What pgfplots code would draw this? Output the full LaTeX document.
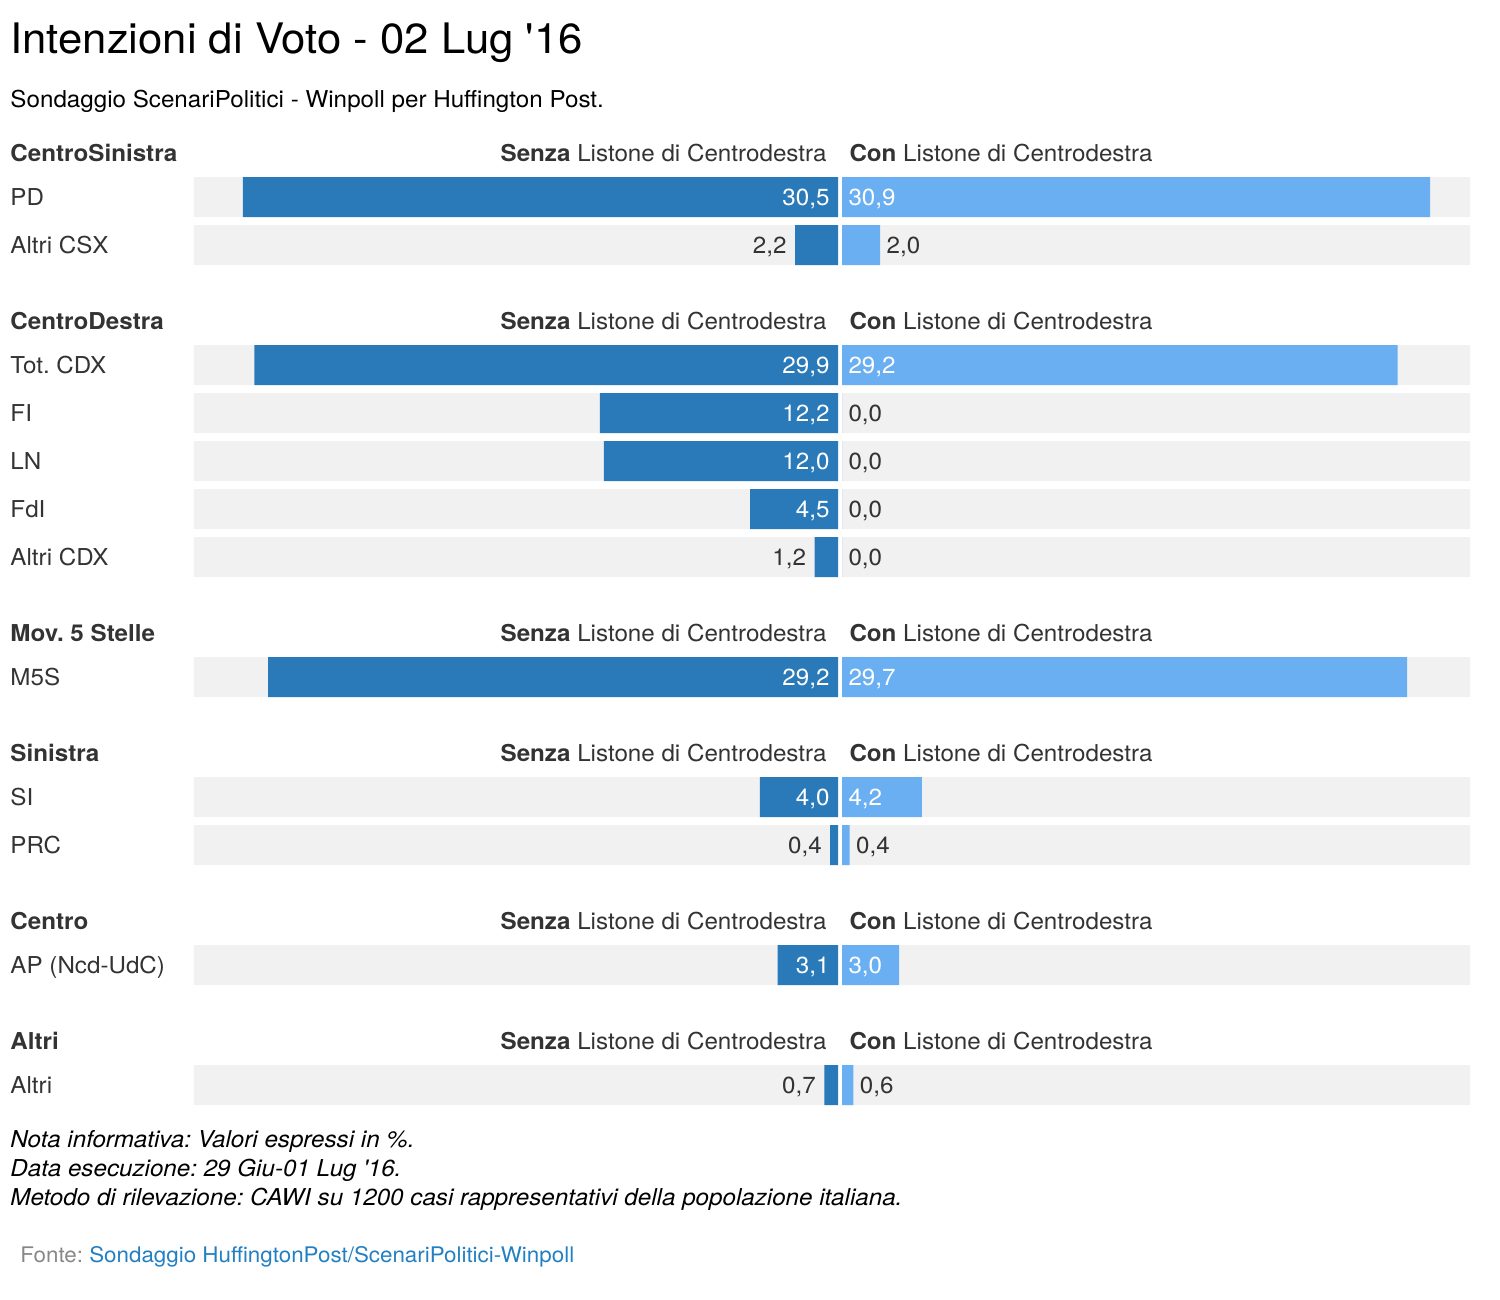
\documentclass[border=0pt]{standalone}
\usepackage{pgfplots}
\pgfplotsset{compat=1.18}
\usepackage{pgfplotstable}
\usepackage{fontspec}
\setmainfont{TeX Gyre Heros}[FakeStretch=1.04]

\definecolor{scuro}{HTML}{2A7AB9}
\definecolor{chiaro}{HTML}{6AAFF2}
\definecolor{sfondo}{HTML}{F1F1F1}
\definecolor{testo}{HTML}{333333}
\definecolor{fonte}{HTML}{888888}
\definecolor{link}{HTML}{2280C2}

% rows: y is the row centre in pixels from the top
\pgfplotstableread{
y    senza con  fondo
197  30.5  30.9 33
245  2.2   2.0  33
365  29.9  29.2 33
413  12.2  0.0  33
461  12.0  0.0  33
509  4.5   0.0  33
557  1.2   0.0  33
677  29.2  29.7 33
797  4.0   4.2  33
845  0.4   0.4  33
965  3.1   3.0  33
1085 0.7   0.6  33
}\dati

% value labels set inside the bar (white) or beside it (dark)
\pgfplotstableread{
y   v
197 30.5
365 29.9
413 12.2
461 12.0
509 4.5
677 29.2
797 4.0
965 3.1
}\senzadentro
\pgfplotstableread{
y    v
245  2.2
557  1.2
845  0.4
1085 0.7
}\senzafuori
\pgfplotstableread{
y   v
197 30.9
365 29.2
677 29.7
797 4.2
965 3.0
}\condentro
\pgfplotstableread{
y    v
245  2.0
413  0.0
461  0.0
509  0.0
557  0.0
845  0.4
1085 0.6
}\confuori

\newcommand\px{0.4pt}
\newcommand\corpo{\fontsize{9.3pt}{10pt}\selectfont}
\newcommand\testo[4][]{\node[anchor=base west,inner sep=0pt,font=\corpo,text=testo,#1] at ({(#2)*\px},{-(#3)*\px}) {#4};}
\newcommand\intest[2]{%
  \testo{10}{#1+8}{\textbf{#2}}%
  \testo[anchor=base east]{827}{#1+8}{\textbf{Senza} Listone di Centrodestra}%
  \testo{849}{#1+8}{\textbf{Con} Listone di Centrodestra}}

\pgfplotsset{
  lato/.style={scale only axis,height=520pt,ymin=0,ymax=1300,y dir=reverse,
    xmin=0,xmax=33,axis lines=none,clip=false,anchor=north west},
  barra/.style={xbar,bar width=16pt,draw=none,fill=#1},
  etichetta/.style={only marks,mark=none,point meta=explicit,
    nodes near coords={\pgfmathprintnumber[fixed,fixed zerofill,precision=1,
      use comma,assume math mode=true]{\pgfplotspointmeta}},
    nodes near coords style={font=\corpo,inner sep=0pt,text=#1}},
}

\begin{document}
\frenchspacing
\begin{tikzpicture}
\path (0,0) rectangle (1500*\px,-1300*\px);

\begin{axis}[lato,width=257.6pt,at={(77.6pt,0pt)},x dir=reverse]
  \addplot[barra=sfondo] table[x=fondo,y=y] {\dati};
  \addplot[barra=scuro] table[x=senza,y=y] {\dati};
  \addplot[etichetta=white,nodes near coords style={anchor=base east,xshift=-3.2pt,yshift=-3.2pt}]
    table[x expr=0,y=y,meta=v] {\senzadentro};
  \addplot[etichetta=testo,nodes near coords style={anchor=base east,xshift=-3.2pt,yshift=-3.2pt}]
    table[x=v,y=y,meta=v] {\senzafuori};
\end{axis}

\begin{axis}[lato,width=251.2pt,at={(336.8pt,0pt)}]
  \addplot[barra=sfondo] table[x=fondo,y=y] {\dati};
  \addplot[barra=chiaro] table[x=con,y=y] {\dati};
  \addplot[etichetta=white,nodes near coords style={anchor=base west,xshift=2.4pt,yshift=-3.2pt}]
    table[x expr=0,y=y,meta=v] {\condentro};
  \addplot[etichetta=testo,nodes near coords style={anchor=base west,xshift=2.4pt,yshift=-3.2pt}]
    table[x=v,y=y,meta=v] {\confuori};
\end{axis}

\node[anchor=base west,inner sep=0pt,font=\fontsize{16.8pt}{18pt}\selectfont] at (10*\px,-53*\px)
  {Intenzioni di Voto - 02 Lug \textquotesingle16};
\node[anchor=base west,inner sep=0pt,font=\corpo] at (10*\px,-107*\px)
  {Sondaggio ScenariPolitici - Winpoll per Huffington Post.};

\intest{153}{CentroSinistra}
\testo{10}{205}{PD}
\testo{10}{253}{Altri CSX}
\intest{321}{CentroDestra}
\testo{10}{373}{Tot. CDX}
\testo{10}{421}{FI}
\testo{10}{469}{LN}
\testo{10}{517}{FdI}
\testo{10}{565}{Altri CDX}
\intest{633}{Mov. 5 Stelle}
\testo{10}{685}{M5S}
\intest{753}{Sinistra}
\testo{10}{805}{SI}
\testo{10}{853}{PRC}
\intest{921}{Centro}
\testo{10}{973}{AP (Ncd-UdC)}
\intest{1041}{Altri}
\testo{10}{1093}{Altri}

\testo[text=black,font=\corpo\itshape]{10}{1147}{Nota informativa: Valori espressi in \%.}
\testo[text=black,font=\corpo\itshape]{10}{1176}{Data esecuzione: 29 Giu-01 Lug \textquotesingle16.}
\testo[text=black,font=\corpo\itshape]{10}{1205}{Metodo di rilevazione: CAWI su 1200 casi rappresentativi della popolazione italiana.}
\testo[font=\fontsize{8.6pt}{9pt}\selectfont]{20}{1262}{\textcolor{fonte}{Fonte:} \textcolor{link}{Sondaggio HuffingtonPost/ScenariPolitici-Winpoll}}
\end{tikzpicture}
\end{document}
